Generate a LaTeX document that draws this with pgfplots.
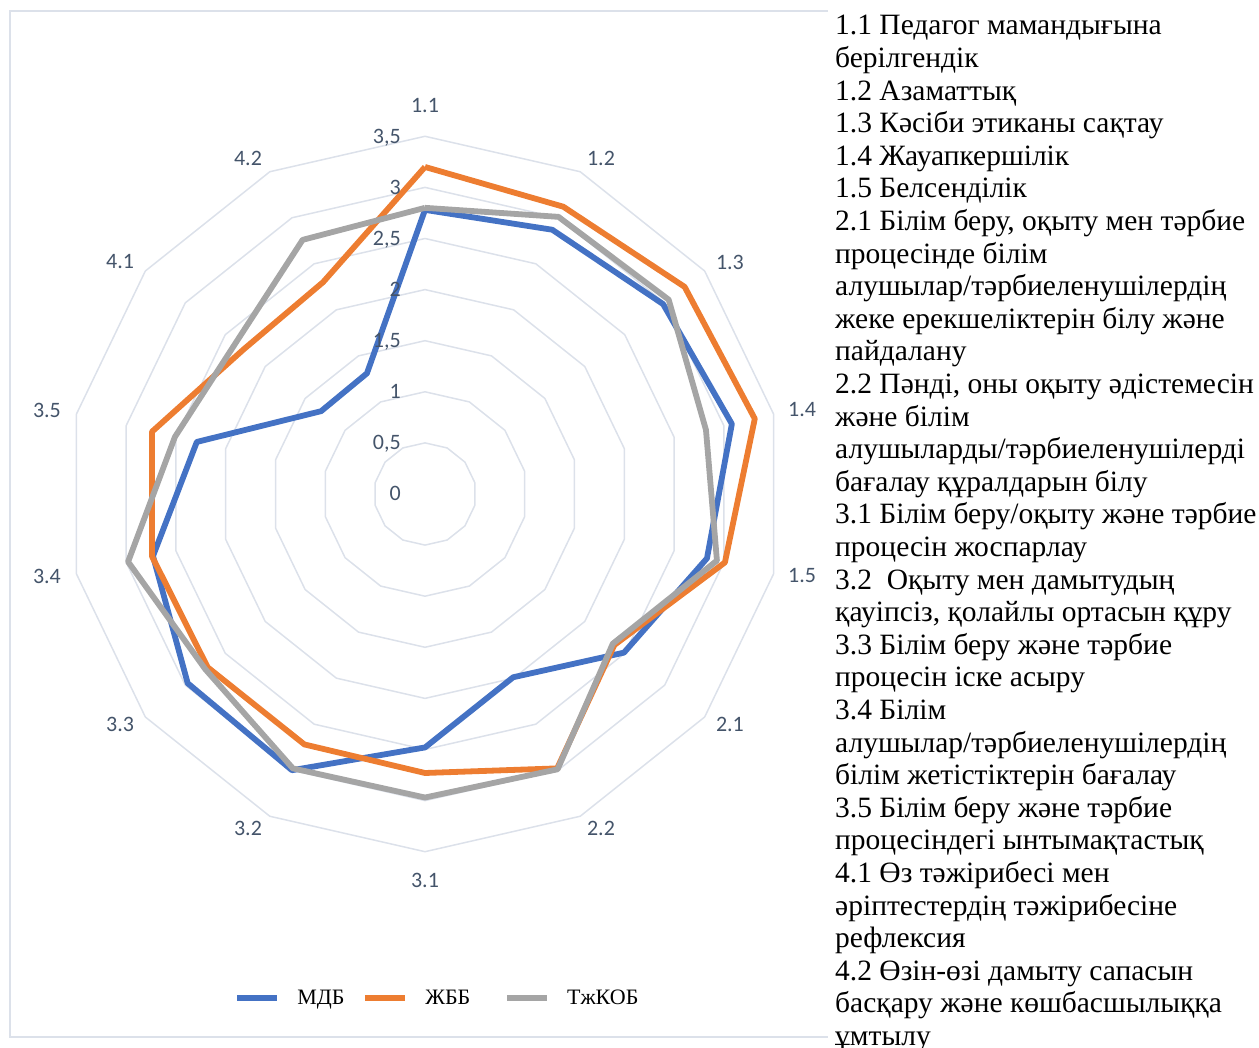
\documentclass[border=0pt]{standalone}
\usepackage{fontspec}
\setmainfont{Liberation Serif}
\newfontfamily\calib{Carlito}
\usepackage{pgfplots}
\usepackage{pgfplotstable}
\pgfplotsset{compat=1.18}
\definecolor{cBlue}{HTML}{4472C4}
\definecolor{cOrange}{HTML}{ED7D31}
\definecolor{cGray}{HTML}{A5A5A5}
\definecolor{gridc}{HTML}{DCE1EA}
\definecolor{lblc}{HTML}{44546A}

% k = category index (0 = 1.1, clockwise), values per series; last row closes the polygon
\pgfplotstableread{
k mdb jbb tkob
0 2.78 3.20 2.80
1 2.87 3.12 3.01
2 2.98 3.25 3.05
3 3.08 3.31 2.82
4 2.83 3.01 2.93
5 2.49 2.37 2.35
6 1.99 2.98 2.99
7 2.48 2.73 2.97
8 3.00 2.72 2.98
9 2.97 2.72 2.75
10 2.73 2.74 2.98
11 2.29 2.74 2.51
12 1.30 2.27 2.37
13 1.31 2.30 2.76
14 2.78 3.20 2.80
}\radar

\newcommand\catlbl[3]{\node[font=\calib\fontsize{22bp}{24bp}\selectfont, text=lblc, inner sep=0pt, anchor=center] at (axis cs:#1,#2) {#3};}
\newcommand\radlbl[2]{\node[font=\calib\fontsize{22bp}{24bp}\selectfont, text=lblc, inner sep=0pt, anchor=base east] at (axis cs:-0.235,{#1-0.068}) {#2};}
\newcommand\rl[2]{\node[anchor=base west, inner sep=0pt, font=\fontsize{29.5bp}{32.6bp}\selectfont] at (835bp,{1048bp-35bp-32.6bp*#1}) {#2};}

\begin{document}
\begin{tikzpicture}
\useasboundingbox (0,0) rectangle (1259bp,1048bp);
% chart frame
\draw[gridc, line width=2bp] (828bp,1037bp) -- (9.5bp,1037bp) -- (9.5bp,11bp) -- (828bp,11bp);
% polygonal grid
\begin{scope}[shift={(425bp,554bp)}, x=102.2bp, y=102.2bp]
\foreach \r in {0.5,1,1.5,2,2.5,3,3.5}{
  \draw[gridc, line width=1.5bp, line join=round] (90:\r) \foreach \k in {1,...,13}{ -- ({90-\k*360/14}:\r)} -- cycle;
}
\end{scope}

\begin{axis}[at={(425bp,554bp)}, anchor=center, x=102.2bp, y=102.2bp,
  xmin=-4, xmax=4, ymin=-4, ymax=4, hide axis, clip=false,
  legend columns=3,
  legend style={draw=none, fill=none, at={(0.514,-0.116)}, anchor=center,
    font=\fontsize{22bp}{26bp}\selectfont, nodes={inner sep=0pt},
    /tikz/every odd column/.append style={column sep=17bp},
    /tikz/every even column/.append style={column sep=18bp}},
  legend image code/.code={\draw[#1, line width=5.8bp] (0bp,0bp) -- (40bp,0bp);},
]
\addplot[cBlue, line width=5.8bp, line join=round] table[x expr={\thisrow{mdb}*sin(\thisrow{k}*360/14)}, y expr={\thisrow{mdb}*cos(\thisrow{k}*360/14)}]{\radar};
\addlegendentry{МДБ}
\addplot[cOrange, line width=5.8bp, line join=round] table[x expr={\thisrow{jbb}*sin(\thisrow{k}*360/14)}, y expr={\thisrow{jbb}*cos(\thisrow{k}*360/14)}]{\radar};
\addlegendentry{ЖББ\rule{16bp}{0pt}}
\addplot[cGray, line width=5.8bp, line join=round] table[x expr={\thisrow{tkob}*sin(\thisrow{k}*360/14)}, y expr={\thisrow{tkob}*cos(\thisrow{k}*360/14)}]{\radar};
\addlegendentry{ТжКОБ}

\catlbl{0}{3.806}{1.1}
\catlbl{1.722}{3.288}{1.2}
\catlbl{2.984}{2.270}{1.3}
\catlbl{3.689}{0.822}{1.4}
\catlbl{3.689}{-0.802}{1.5}
\catlbl{2.984}{-2.250}{2.1}
\catlbl{1.722}{-3.268}{2.2}
\catlbl{0}{-3.777}{3.1}
\catlbl{-1.732}{-3.268}{3.2}
\catlbl{-2.984}{-2.250}{3.3}
\catlbl{-3.699}{-0.802}{3.4}
\catlbl{-3.699}{0.822}{3.5}
\catlbl{-2.984}{2.270}{4.1}
\catlbl{-1.732}{3.288}{4.2}

\radlbl{0}{0}
\radlbl{0.5}{0,5}
\radlbl{1}{1}
\radlbl{1.5}{1,5}
\radlbl{2}{2}
\radlbl{2.5}{2,5}
\radlbl{3}{3}
\radlbl{3.5}{3,5}
\end{axis}

\rl{0}{1.1 Педагог мамандығына}
\rl{1}{берілгендік}
\rl{2}{1.2 Азаматтық}
\rl{3}{1.3 Кәсіби этиканы сақтау}
\rl{4}{1.4 Жауапкершілік}
\rl{5}{1.5 Белсенділік}
\rl{6}{2.1 Білім беру, оқыту мен тәрбие}
\rl{7}{процесінде білім}
\rl{8}{алушылар/тәрбиеленушілердің}
\rl{9}{жеке ерекшеліктерін білу және}
\rl{10}{пайдалану}
\rl{11}{2.2 Пәнді, оны оқыту әдістемесін}
\rl{12}{және білім}
\rl{13}{алушыларды/тәрбиеленушілерді}
\rl{14}{бағалау құралдарын білу}
\rl{15}{3.1 Білім беру/оқыту және тәрбие}
\rl{16}{процесін жоспарлау}
\rl{17}{3.2~~Оқыту мен дамытудың}
\rl{18}{қауіпсіз, қолайлы ортасын құру}
\rl{19}{3.3 Білім беру және тәрбие}
\rl{20}{процесін іске асыру}
\rl{21}{3.4 Білім}
\rl{22}{алушылар/тәрбиеленушілердің}
\rl{23}{білім жетістіктерін бағалау}
\rl{24}{3.5 Білім беру және тәрбие}
\rl{25}{процесіндегі ынтымақтастық}
\rl{26}{4.1 Өз тәжірибесі мен}
\rl{27}{әріптестердің тәжірибесіне}
\rl{28}{рефлексия}
\rl{29}{4.2 Өзін-өзі дамыту сапасын}
\rl{30}{басқару және көшбасшылыққа}
\rl{31}{ұмтылу}
\end{tikzpicture}
\end{document}
